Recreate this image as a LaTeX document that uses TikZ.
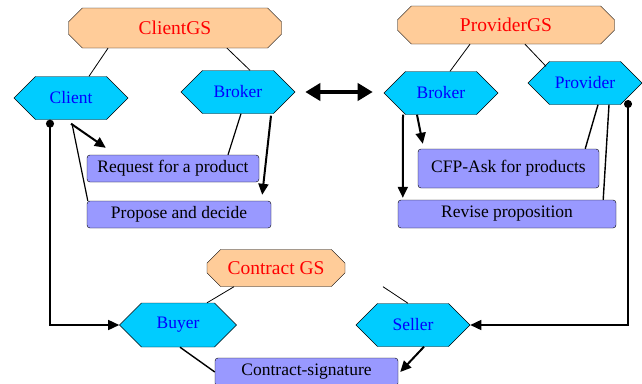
\documentclass[tikz,border=0pt]{standalone}
\usepackage{fontspec}
\setmainfont{Liberation Serif}
\usepackage{tikz}
\usetikzlibrary{arrows.meta,shapes.misc,shapes.symbols}
\definecolor{gsorange}{RGB}{255,204,153}
\definecolor{rolecyan}{RGB}{0,204,255}
\definecolor{taskblue}{RGB}{153,153,255}

\begin{document}
\begin{tikzpicture}[x=1pt,y=-1pt,>={Triangle[length=11pt,width=10pt]},
  gs node/.style={chamfered rectangle,chamfered rectangle xsep=9pt,chamfered rectangle ysep=7pt,
    fill=gsorange,draw,inner sep=0pt,text=red,font=\fontsize{19.5}{22}\selectfont},
  role node/.style={signal,signal to=west and east,signal pointer angle=90,fill=rolecyan,draw,
    inner sep=0pt,minimum width=114pt,minimum height=43pt,text=blue,font=\fontsize{17.5}{20}\selectfont},
  task node/.style={rectangle,rounded corners=3pt,fill=taskblue,draw,inner sep=0pt,
    minimum height=27pt,font=\fontsize{17.5}{20}\selectfont},
  link/.style={line width=0.8pt},
  flow/.style={->,line width=2pt},
  wire/.style={{Circle[length=8pt]}->,line width=1.5pt}]
  \useasboundingbox[fill=white] (0,0) rectangle (642,383);

  % goal structures
  \node[gs node,minimum width=213pt,minimum height=40pt] (clientgs) at (175,28) {ClientGS};
  \node[gs node,minimum width=217pt,minimum height=38pt] (providergs) at (506,25) {ProviderGS};
  \node[gs node,minimum width=138pt,minimum height=37pt] (contractgs) at (276,268) {Contract GS};

  % roles
  \node[role node] (client) at (71,98) {Client};
  \node[role node] (brokerc) at (238,92) {Broker};
  \node[role node] (brokerp) at (441,93) {Broker};
  \node[role node] (provider) at (585,83) {Provider};
  \node[role node,minimum width=117pt,minimum height=44pt] (buyer) at (178,325) {Buyer};
  \node[role node] (seller) at (413,325) {Seller};

  % tasks
  \node[task node,minimum width=172pt] (request) at (173,168.5) {Request for a product};
  \node[task node,minimum width=184pt] (propose) at (179,214.5) {Propose and decide};
  \node[task node,minimum width=181pt,minimum height=39pt] (cfp) at (508.5,168.5) {CFP-Ask for products};
  \node[task node,minimum width=218pt,minimum height=28pt] (revise) at (507,214) {Revise proposition};
  \node[task node,minimum width=183pt,minimum height=28pt] (signature) at (306.5,372) {Contract-signature};

  \coordinate (clientdot) at ([xshift=-21pt]client.south);
  \coordinate (providerdot) at (628,100);

  % structure links
  \draw[link] ([xshift=-67pt]clientgs.south) -- ([xshift=18pt]client.north);
  \draw[link] ([xshift=52pt]clientgs.south) -- ([xshift=12pt]brokerc.north);
  \draw[link] ([xshift=-36pt]providergs.south) -- ([xshift=9pt]brokerp.north);
  \draw[link] ([xshift=19pt]providergs.south) -- ([xshift=-39pt,yshift=-5pt]provider.north);
  \draw[link] ([xshift=-42pt]contractgs.south) -- ([xshift=29pt]buyer.north);
  \draw[link] ([xshift=107pt]contractgs.south) -- ([xshift=-5pt]seller.north);

  % client side
  \draw[flow] ([yshift=-4pt]client.south) -- ([xshift=19pt,yshift=7pt]request.north west);
  \draw[link,line width=1.2pt] ([xshift=1pt,yshift=-4pt]client.south) -- ([xshift=1pt]propose.north west);
  \draw[link,line width=1.2pt] ([xshift=3pt]brokerc.south) -- ([xshift=55pt]request.north);
  \draw[flow] ([xshift=33pt,yshift=-2pt]brokerc.south) -- ([xshift=-9pt,yshift=6pt]propose.north east);

  % broker to broker
  \draw[<->,line width=4pt,>={Triangle[length=15pt,width=17pt]},shorten <=10pt,shorten >=11pt]
    (brokerc.east) -- (brokerc.east -| brokerp.west);

  % provider side
  \draw[flow] ([xshift=-38pt]brokerp.south) -- ([xshift=5pt,yshift=2pt]revise.north west);
  \draw[flow] ([xshift=-24pt]brokerp.south) -- ([xshift=5pt,yshift=5pt]cfp.north west);
  \draw[link,line width=1.4pt] ([xshift=13pt]provider.south) -- ([xshift=-14pt]cfp.north east);
  \draw[link,line width=1.4pt] ([xshift=24pt]provider.south) -- ([xshift=-13pt]revise.north east);

  % contract
  \draw[wire] (clientdot) |- (buyer.west);
  \draw[wire] (providerdot) |- (seller.east);
  \draw[link,line width=1.4pt] ([xshift=2pt]buyer.south) -- (signature.west);
  \draw[flow] ([xshift=11pt]seller.south) -- ([xshift=2pt]signature.east);
\end{tikzpicture}
\end{document}
